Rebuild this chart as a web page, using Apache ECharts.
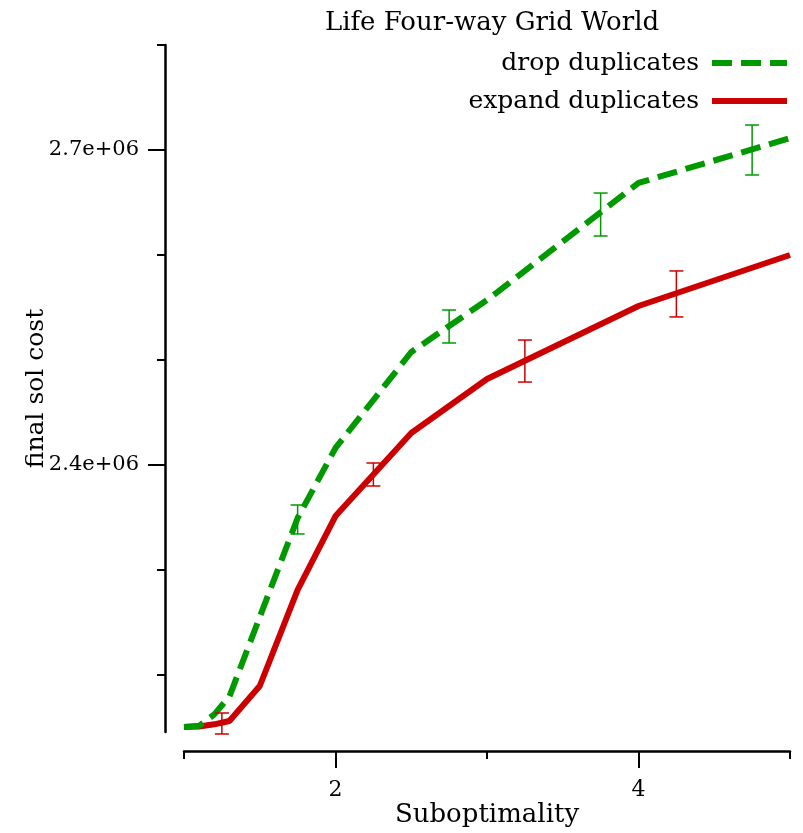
<!DOCTYPE html>
<html>
<head>
<meta charset="utf-8">
<script src="https://cdn.jsdelivr.net/npm/echarts@6/dist/echarts.min.js"></script>
<style>
  html, body { margin: 0; padding: 0; background: #fff; }
  #main { width: 803px; height: 833px; }
</style>
</head>
<body>
<div id="main"></div>
<script>
// suboptimality bounds
const xValues = [1, 1.1, 1.2, 1.3, 1.5, 1.75, 2, 2.5, 3, 4, 5];

// final solution cost
const dropCost = [2150500, 2151600, 2162500, 2179500, 2255200, 2349500, 2416200, 2507600, 2557100, 2668600, 2711400];
const expandCost = [2150500, 2151000, 2153000, 2156200, 2189500, 2281000, 2351400, 2430500, 2481900, 2551400, 2600000];

// error bars
const dropErrX = [1.75, 2.75, 3.75, 4.75];
const dropErrLow = [2334300, 2516200, 2618100, 2676200];
const dropErrHigh = [2361900, 2547600, 2659000, 2723800];
const expandErrX = [1.25, 2.25, 3.25, 4.25];
const expandErrLow = [2143800, 2380000, 2479000, 2541000];
const expandErrHigh = [2163800, 2401900, 2519000, 2584800];

const xTicks = [1, 2, 3, 4, 5];
const xLabels = [2, 4];
const yTicks = [2200000, 2300000, 2400000, 2500000, 2600000, 2700000, 2800000];
const yLabels = [2400000, 2700000];

const font = 'DejaVu Serif';
const green = '#009900';
const red = '#cc0000';

function zip(xs, ys) {
  return xs.map((x, i) => [x, ys[i]]);
}

function errBars(name, color, xs, lo, hi) {
  return {
    name: name,
    type: 'custom',
    silent: true,
    data: xs.map((x, i) => [x, lo[i], hi[i]]),
    renderItem: function (params, api) {
      const top = api.coord([api.value(0), api.value(2)]);
      const bot = api.coord([api.value(0), api.value(1)]);
      const w = 7;
      const style = { stroke: color, lineWidth: 1.5 };
      return {
        type: 'group',
        children: [
          { type: 'line', shape: { x1: top[0], y1: top[1], x2: bot[0], y2: bot[1] }, style: style },
          { type: 'line', shape: { x1: top[0] - w, y1: top[1], x2: top[0] + w, y2: top[1] }, style: style },
          { type: 'line', shape: { x1: bot[0] - w, y1: bot[1], x2: bot[0] + w, y2: bot[1] }, style: style }
        ]
      };
    },
    z: 4
  };
}

const yMin = 2145700;
const yMax = 2800000;

const chart = echarts.init(document.getElementById('main'));

const option = {
  animation: false,
  textStyle: { fontFamily: font },
  title: {
    text: 'Life Four-way Grid World',
    left: 487,
    textAlign: 'center',
    top: 5,
    textStyle: { fontFamily: font, fontSize: 26, fontWeight: 'normal', color: '#000' }
  },
  legend: {
    data: ['drop duplicates', 'expand duplicates'],
    orient: 'vertical',
    align: 'right',
    right: 13,
    top: 48,
    padding: 0,
    itemWidth: 75,
    itemHeight: 14,
    itemGap: 8,
    itemStyle: { opacity: 0 },
    lineStyle: { width: 6 },
    textStyle: { fontFamily: font, fontSize: 25, color: '#000', lineHeight: 30, padding: [0, 8, 0, 0] }
  },
  grid: { left: 184, right: 13, top: 45, bottom: 100 },
  xAxis: [
    {
      type: 'value',
      min: 1,
      max: 5,
      offset: 19,
      name: 'Suboptimality',
      nameLocation: 'middle',
      nameGap: 51,
      nameTextStyle: { fontFamily: font, fontSize: 26, color: '#000' },
      axisLine: { lineStyle: { color: '#000', width: 2.5 } },
      axisTick: { customValues: xTicks, length: 8, lineStyle: { width: 2 } },
      axisLabel: { show: false },
      splitLine: { show: false }
    },
    {
      type: 'value',
      min: 1,
      max: 5,
      position: 'bottom',
      offset: 19,
      axisLine: { show: false },
      axisTick: { customValues: xLabels, length: 17, lineStyle: { color: '#000', width: 2 } },
      axisLabel: { customValues: xLabels, margin: 28, fontFamily: font, fontSize: 22, color: '#000' },
      splitLine: { show: false }
    }
  ],
  yAxis: [
    {
      type: 'value',
      min: yMin,
      max: yMax,
      offset: 19,
      name: 'final sol cost',
      nameLocation: 'middle',
      nameGap: 116,
      nameTextStyle: { fontFamily: font, fontSize: 25, color: '#000' },
      axisLine: { show: true, lineStyle: { color: '#000', width: 2.5 } },
      axisTick: { show: true, customValues: yTicks, length: 8, lineStyle: { width: 2 } },
      axisLabel: { show: false },
      splitLine: { show: false }
    },
    {
      type: 'value',
      min: yMin,
      max: yMax,
      position: 'left',
      offset: 19,
      axisLine: { show: false },
      axisTick: { show: true, customValues: yLabels, length: 17, lineStyle: { color: '#000', width: 2 } },
      axisLabel: {
        customValues: yLabels,
        margin: 26,
        fontFamily: font,
        fontSize: 21,
        color: '#000',
        formatter: (v) => (v / 1e6).toFixed(1) + 'e+06'
      },
      splitLine: { show: false }
    }
  ],
  series: [
    {
      name: 'expand duplicates',
      type: 'line',
      data: zip(xValues, expandCost),
      symbol: 'none',
      color: red,
      lineStyle: { color: red, width: 6 },
      z: 2
    },
    {
      name: 'drop duplicates',
      type: 'line',
      data: zip(xValues, dropCost),
      symbol: 'none',
      color: green,
      lineStyle: { color: green, width: 6, type: [20, 9] },
      z: 3
    },
    errBars('drop err', green, dropErrX, dropErrLow, dropErrHigh),
    errBars('expand err', red, expandErrX, expandErrLow, expandErrHigh)
  ]
};

chart.setOption(option);
</script>
</body>
</html>
